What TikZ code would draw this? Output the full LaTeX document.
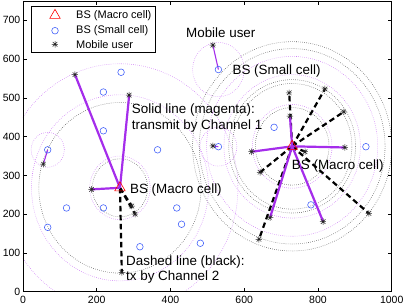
\documentclass[tikz,border=0pt]{standalone}
\usepackage{fontspec}
\setmainfont{Liberation Sans}
\usetikzlibrary{positioning,shapes.geometric}

\definecolor{chmag}{RGB}{165,45,235}
\definecolor{ringmag}{RGB}{200,110,245}
\definecolor{bsblue}{RGB}{70,100,250}

\begin{document}
\begin{tikzpicture}[
  x=0.3687pt, y=0.3877pt,
  font=\fontsize{10.5}{12}\selectfont,
  macro/.style={regular polygon, regular polygon sides=3, draw=red, line width=0.6pt, inner sep=0pt, minimum size=12pt},
  smallbs/.style={circle, draw=bsblue, line width=0.6pt, inner sep=0pt, minimum size=6.6pt},
  user/.style={circle, inner sep=0pt, minimum size=6.6pt, path picture={
    \draw[black!85, line width=0.5pt]
      (path picture bounding box.north) -- (path picture bounding box.south)
      (path picture bounding box.east) -- (path picture bounding box.west)
      (path picture bounding box.north east) -- (path picture bounding box.south west)
      (path picture bounding box.north west) -- (path picture bounding box.south east);}},
  chone/.style={draw=chmag, line width=2.2pt},
  chonelite/.style={draw=chmag, line width=1.1pt},
  chtwo/.style={draw=black, line width=2.2pt, dash pattern=on 5.5pt off 3.5pt},
  ringk/.style={draw=black!70, line width=0.55pt, dash pattern=on 0.55pt off 1.5pt},
  ringm/.style={draw=ringmag, line width=0.55pt, dash pattern=on 0.55pt off 1.5pt},
  ann/.style={font=\fontsize{13.4}{15.3}\selectfont, inner sep=0pt, anchor=base west, align=left},
  leg/.style={font=\fontsize{11}{13}\selectfont, inner sep=0pt, anchor=west},
  ticklbl/.style={inner sep=0pt}
]
\useasboundingbox (-62.38,-36.88) rectangle (1036.05,752.4);

% ---- base stations ----
\coordinate (m1) at (263,268);
\coordinate (m2) at (730,375);
\foreach \n/\p in {1/{67,366}, 2/{67,166}, 3/{118,216}, 4/{218,216}, 5/{218,415},
  6/{218,515}, 7/{266,566}, 8/{317,116}, 9/{365,366}, 10/{417,216}, 11/{430,174},
  12/{481,125}, 13/{530,374}, 14/{530,573}, 15/{681,424}, 16/{781,224}, 17/{930,374}}
  \coordinate (s\n) at (\p);

% ---- mobile users ----
\foreach \n/\p in {1/{141,560}, 2/{288,507}, 3/{186,264}, 4/{304,200}, 5/{295,221},
  6/{268,50}, 7/{55,329}, 8/{515,636}, 9/{515,376}, 10/{620,361}, 11/{873,372},
  12/{724,453}, 13/{670,191}, 14/{814,181}, 15/{722,513}, 16/{819,523},
  17/{870,464}, 18/{643,308}, 19/{640,135}, 20/{938,202}, 21/{765,361}}
  \coordinate (u\n) at (\p);

% ---- coverage rings ----
\begin{scope}
\clip (0,0) rectangle (1000,750);
\foreach \r in {75,220} \draw[ringk] (m1) circle (\r);
\foreach \r in {82,240,320} \draw[ringm] (m1) circle (\r);
\foreach \r in {100,162,172,252,270} \draw[ringk] (m2) circle (\r);
\foreach \r in {108,185,232} \draw[ringm] (m2) circle (\r);
\draw[ringm] (s1) circle (45);
\draw[ringm] (s13) circle (50);
\draw[ringm] (s14) circle (70);
\end{scope}

% ---- links ----
\foreach \u in {4,5,6} \draw[chtwo] (m1) -- (u\u);
\foreach \u in {15,16,17,18,19,20,21} \draw[chtwo] (m2) -- (u\u);
\foreach \u in {1,2,3} \draw[chone] (m1) -- (u\u);
\foreach \u in {10,11,12,13,14} \draw[chone] (m2) -- (u\u);
\draw[chonelite] (s1) -- (u7);
\draw[chonelite] (s14) -- (u8);
\draw[chonelite] (s13) -- (u9);

% ---- markers ----
\foreach \n in {1,...,17} \node[smallbs] (bs\n) at (s\n) {};
\node[macro] (macroa) at (m1) {};
\node[macro] (macrob) at (m2) {};
\foreach \n in {1,...,21} \node[user] (ue\n) at (u\n) {};

% ---- annotations (base of two-line labels = last line) ----
\node[ann] (lblmobile) at (442,656) {Mobile user};
\node[ann] (lblsmall) at (568,561.5) {BS (Small cell)};
\node[ann] (lblsolid) at (295,418.9) {Solid line (magenta):\\transmit by Channel 1};
\node[ann] (lblmacroa) at (290,253.8) {BS (Macro cell)};
\node[ann] (lbldashed) at (279.4,28.4) {Dashed line (black):\\tx by Channel 2};
\node[ann] (lblmacrob) at (729,315.7) {BS (Macro cell)};

% ---- legend ----
\draw[fill=white, line width=0.5pt] (21.7,617.5) rectangle (359.9,735.1);
\node[macro] (legmacro) at (86.8,712.9) {};
\node[smallbs] (legsmall) at (86.8,673.2) {};
\node[user] (leguser) at (86.8,638.1) {};
\node[leg, right=21pt of legmacro.center] (legmacrotxt) {BS (Macro cell)};
\node[leg, right=21pt of legsmall.center] (legsmalltxt) {BS (Small cell)};
\node[leg, right=21pt of leguser.center] (legusertxt) {Mobile user};

% ---- axes ----
\draw[line width=0.6pt] (0,0) rectangle (1000,750);
\foreach \t in {0,200,...,1000} {
  \draw[line width=0.5pt] (\t,0) -- ++(0,3.8pt);
  \draw[line width=0.5pt] (\t,750) -- ++(0,-3.8pt);
  \node[ticklbl, anchor=north, yshift=-4.5pt] (xt\t) at (\t,0) {\t};
}
\foreach \t in {0,100,...,700} {
  \draw[line width=0.5pt] (0,\t) -- ++(3.8pt,0);
  \draw[line width=0.5pt] (1000,\t) -- ++(-3.8pt,0);
  \node[ticklbl, anchor=east, xshift=-2.5pt] (yt\t) at (0,\t) {\t};
}
\end{tikzpicture}
\end{document}
